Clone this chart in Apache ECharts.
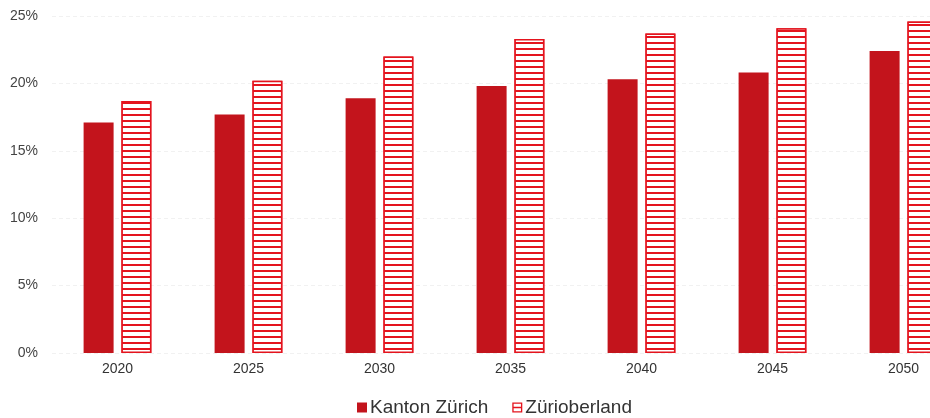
<!DOCTYPE html>
<html>
<head>
<meta charset="utf-8">
<script src="https://cdn.jsdelivr.net/npm/echarts@6/dist/echarts.min.js"></script>
<style>
  html, body { margin: 0; padding: 0; background: #fff; overflow: hidden; width: 930px; height: 418px; }
  /* the plot continues past the right edge of the page, so the last group is cut off */
  #chart { width: 969px; height: 418px; }
</style>
</head>
<body>
<div id="chart"></div>
<script>
// Share of population aged 65+ (projection)
const years = ['2020', '2025', '2030', '2035', '2040', '2045', '2050'];
const kantonZuerich = [17.1, 17.7, 18.9, 19.8, 20.3, 20.8, 22.4];
const zuerioberland = [18.7, 20.2, 22.0, 23.3, 23.7, 24.1, 24.6];
const seriesNames = ['Kanton Zürich', 'Zürioberland'];

const RED_DARK = '#c3141c';
const RED = '#e4141e';

const chart = echarts.init(document.getElementById('chart'), null, { renderer: 'canvas' });

chart.setOption({
  animation: false,
  textStyle: { fontFamily: 'Liberation Sans, Arial, sans-serif' },
  grid: { left: 52, right: 0, top: 16, bottom: 65, containLabel: false },
  xAxis: {
    type: 'category',
    data: years,
    axisLine: { show: false },
    axisTick: { show: false },
    axisLabel: { color: '#333', fontSize: 14, margin: 9 }
  },
  yAxis: {
    type: 'value',
    min: 0,
    max: 25,
    interval: 5,
    axisLine: { show: false },
    axisTick: { show: false },
    axisLabel: { color: '#444', fontSize: 14, margin: 14, formatter: '{value}%' },
    splitLine: { lineStyle: { color: '#f1f1f1', width: 1, type: [4, 3] } }
  },
  legend: {
    top: 393,
    left: 352,
    itemGap: 24,
    itemWidth: 10,
    itemHeight: 10,
    textStyle: { color: '#333', fontSize: 19, padding: [0, 0, 0, -2] },
    data: [
      { name: seriesNames[0], icon: 'rect', itemStyle: { color: RED_DARK, borderWidth: 0 } },
      {
        name: seriesNames[1],
        icon: 'path://M0,0L12,0L12,12L0,12Z M1.6,1.6L1.6,5.2L10.4,5.2L10.4,1.6Z M1.6,6.8L1.6,10.4L10.4,10.4L10.4,6.8Z',
        itemStyle: { color: RED, borderWidth: 0, decal: 'none' }
      }
    ]
  },
  series: [
    {
      name: seriesNames[0],
      type: 'bar',
      data: kantonZuerich,
      barWidth: 30,
      barGap: '26%',
      itemStyle: { color: RED_DARK }
    },
    {
      name: seriesNames[1],
      type: 'bar',
      data: zuerioberland,
      barWidth: 30,
      itemStyle: {
        color: '#ffffff',
        borderColor: RED,
        borderWidth: 1.5,
        decal: {
          symbol: 'rect',
          symbolSize: 1,
          dashArrayX: [[1, 0]],
          dashArrayY: [1.5, 3.1],
          color: RED,
          backgroundColor: '#ffffff'
        }
      }
    }
  ]
});
</script>
</body>
</html>
